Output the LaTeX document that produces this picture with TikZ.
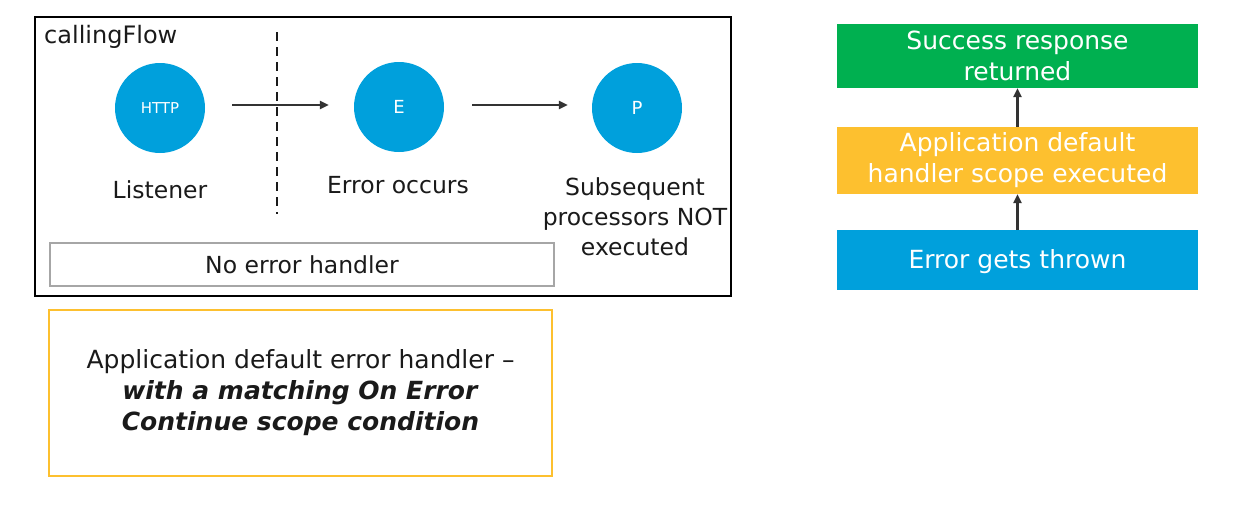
\documentclass[tikz,border=0pt]{standalone}
\usepackage{fontspec}
\setmainfont{DejaVu Sans}
\usetikzlibrary{arrows.meta}
\definecolor{cblue}{HTML}{00A0DC}
\definecolor{cgreen}{HTML}{00B050}
\definecolor{cyellow}{HTML}{FDC02F}
\definecolor{cdark}{HTML}{333333}
\definecolor{cgray}{HTML}{A6A6A6}
\definecolor{ctext}{HTML}{1A1A1A}
\begin{document}
\begin{tikzpicture}[x=1pt,y=-1pt,
  lbl/.style={font=\fontsize{23.5}{30}\selectfont, text=ctext, align=center, inner sep=0pt},
  proc/.style={circle, fill=cblue, minimum size=90pt, inner sep=0pt, text=white},
  arr/.style={draw=cdark, line width=2.6pt, -{Triangle[length=9pt,width=8pt]}},
  rbox/.style={rectangle, minimum width=361pt, inner sep=0pt, text=white, align=center, font=\fontsize{25}{31}\selectfont}
]
\useasboundingbox (0,0) rectangle (1235,514);
% calling flow frame
\node (flow) [draw=black, line width=2.2pt, minimum width=696pt, minimum height=279pt, inner sep=0pt] at (383,156.5) {};
\node (title) [lbl, anchor=west, font=\fontsize{24}{30}\selectfont] at (44,37) {callingFlow};
% processors
\node (http) [proc, font=\fontsize{15}{18}\selectfont] at (160,108) {HTTP};
\node (err) [proc, font=\fontsize{18}{20}\selectfont] at (399,107) {E};
\node (proc) [proc, font=\fontsize{18}{20}\selectfont] at (637,108) {P};
% arrows
\draw[arr, shorten <=27pt, shorten >=25pt] ([yshift=3pt]http.east) -- ([yshift=2pt]err.west);
\draw[arr, shorten <=28pt, shorten >=24pt] ([yshift=2pt]err.east) -- ([yshift=3pt]proc.west);
% dashed separator
\coordinate (dtop) at (277,32);
\coordinate (dbot) at (277,214);
\draw[line width=2.6pt, draw=ctext, dash pattern=on 9pt off 6pt] (dtop) -- (dbot);
% labels
\node (l1) [lbl] at (160,190) {Listener};
\node (l2) [lbl] at (398,185) {Error occurs};
\node (l3) [lbl] at (635,217) {Subsequent\\processors NOT\\executed};
% no error handler
\node (noeh) [draw=cgray, line width=2.8pt, minimum width=504pt, minimum height=43pt, inner sep=0pt, lbl] at (302,264.5) {No error handler};
% application default error handler box
\node (app) [draw=cyellow, line width=2.4pt, minimum width=503pt, minimum height=166pt, inner sep=0pt, align=center, text=ctext, font=\fontsize{25}{31}\selectfont] at (300.5,393)
  {\raisebox{-3pt}{}Application default error handler --\\\textbf{\textit{with a matching On Error}}\\\textbf{\textit{Continue scope condition}}};
% right-hand column
\node (succ) [rbox, fill=cgreen, minimum height=64pt] at (1017.5,56) {Success response\\returned};
\node (scope) [rbox, fill=cyellow, minimum height=67pt] at (1017.5,160.5) {Application default\\handler scope executed};
\node (thrown) [rbox, fill=cblue, minimum height=60pt] at (1017.5,260) {};
\node (thrownt) [text=white, font=\fontsize{25}{31}\selectfont, inner sep=0pt] at (1017.5,262) {Error gets thrown};
\draw[arr] (thrown.north) -- (scope.south);
\draw[arr] (scope.north) -- (succ.south);
\end{tikzpicture}
\end{document}
